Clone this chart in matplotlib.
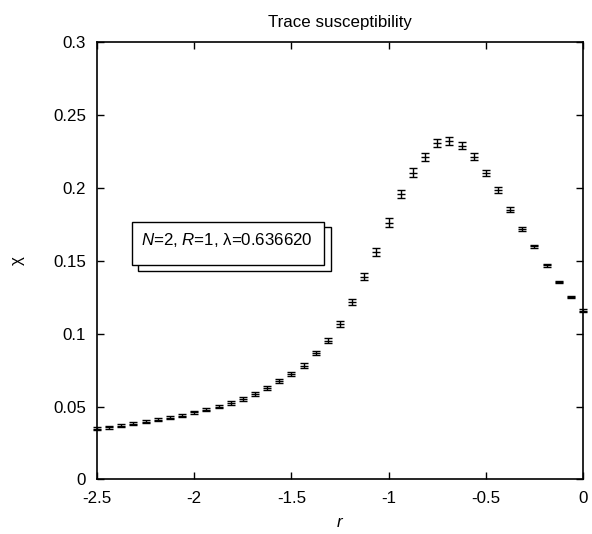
import matplotlib

matplotlib.use("Agg")
import matplotlib.pyplot as plt
import numpy as np
from matplotlib.patches import Rectangle

plt.rcParams["font.family"] = ["Liberation Sans", "DejaVu Sans"]
plt.rcParams["mathtext.fontset"] = "custom"
plt.rcParams["mathtext.it"] = "Liberation Sans:italic"
plt.rcParams["mathtext.rm"] = "Liberation Sans"

# coupling r on a 1/16 grid from -2.5 to 0
r_vals = np.arange(41) / 16.0 - 2.5
chi = [
    0.0349, 0.0358, 0.0370, 0.0381, 0.0397, 0.0411, 0.0425, 0.0438,
    0.0461, 0.0479, 0.0500, 0.0525, 0.0553, 0.0587, 0.0628, 0.0673,
    0.0724, 0.0781, 0.0868, 0.0952, 0.1066, 0.1217, 0.1392, 0.1560,
    0.1762, 0.1959, 0.2105, 0.2214, 0.2306, 0.2322, 0.2288, 0.2214,
    0.2101, 0.1986, 0.1849, 0.1717, 0.1598, 0.1468, 0.1354, 0.1251,
    0.1158,
]
chi_err = [
    0.0010, 0.0010, 0.0010, 0.0010, 0.0010, 0.0010, 0.0010, 0.0010,
    0.0010, 0.0010, 0.0011, 0.0011, 0.0012, 0.0012, 0.0013, 0.0014,
    0.0015, 0.0015, 0.0016, 0.0017, 0.0019, 0.0021, 0.0023, 0.0025,
    0.0028, 0.0028, 0.0028, 0.0028, 0.0026, 0.0026, 0.0025, 0.0024,
    0.0021, 0.0018, 0.0017, 0.0016, 0.0013, 0.0011, 0.0009, 0.0008,
    0.0008,
]
x_ticks = [-2.5, -2, -1.5, -1, -0.5, 0]
x_ticklabels = ["-2.5", "-2", "-1.5", "-1", "-0.5", "0"]
y_ticks = [0, 0.05, 0.1, 0.15, 0.2, 0.25, 0.3]
y_ticklabels = ["0", "0.05", "0.1", "0.15", "0.2", "0.25", "0.3"]

FS = 12.2

fig = plt.figure(figsize=(5.92, 5.34), dpi=100)
ax = fig.add_axes([0.1639, 0.1021, 0.8209, 0.8192])

ax.errorbar(
    r_vals, chi, yerr=chi_err, fmt="_", color="black", ms=6, mew=1.0,
    elinewidth=1.0, capsize=3.2, capthick=1.0, clip_on=False, zorder=3,
)

ax.set_xlim(-2.5, 0)
ax.set_ylim(0, 0.3)
ax.set_xticks(x_ticks)
ax.set_xticklabels(x_ticklabels)
ax.set_yticks(y_ticks)
ax.set_yticklabels(y_ticklabels)
ax.tick_params(direction="in", length=5, width=1, top=True, right=True,
               labelsize=FS, pad=8)
for s in ax.spines.values():
    s.set_linewidth(1.2)

ax.set_xlabel("$r$", fontsize=FS, labelpad=7)
ax.set_ylabel("χ", fontsize=FS, labelpad=20)
ax.set_title("Trace susceptibility", fontsize=FS, pad=11)

# gnuplot-style key with an outlined shadow box
bx, by, bw, bh = 0.2225, 0.5037, 0.3248, 0.0811
fig.patches.append(Rectangle((bx + 0.0113, by - 0.0107), bw, bh, transform=fig.transFigure,
                             facecolor="white", edgecolor="black", lw=1.0, zorder=5))
fig.patches.append(Rectangle((bx, by), bw, bh, transform=fig.transFigure,
                             facecolor="white", edgecolor="black", lw=1.0, zorder=6))
fig.text(0.2377, 0.5506, r"$N$=2, $R$=1, λ=0.636620", fontsize=FS,
         va="center", ha="left", zorder=7)

fig.savefig("out.png", dpi=100)
